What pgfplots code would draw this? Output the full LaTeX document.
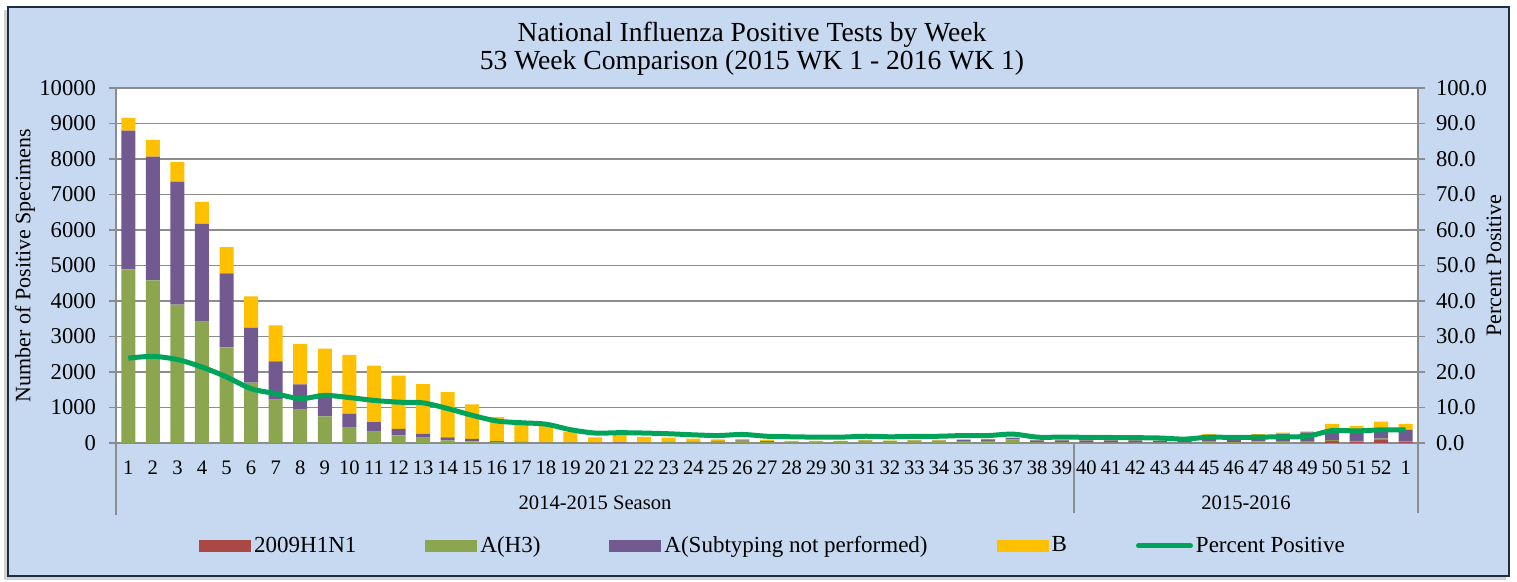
\documentclass[border=0pt]{standalone}
\usepackage{pgfplots}
\pgfplotsset{compat=1.18}
\usepackage{pgfplotstable}
\usepackage{fontspec}
\setmainfont{Liberation Serif}
\definecolor{bgblue}{RGB}{198,217,240}
\definecolor{cred}{RGB}{170,72,70}
\definecolor{cgreen}{RGB}{140,166,80}
\definecolor{cpurple}{RGB}{114,89,143}
\definecolor{cyellow}{RGB}{255,192,0}
\definecolor{cline}{RGB}{0,163,90}
\definecolor{cgrid}{RGB}{140,140,140}
\definecolor{cframe}{RGB}{30,45,65}

\pgfplotstableread{
x h1 h3 asub b pct
1 0 4890 3910 360 23.9
2 0 4580 3490 470 24.4
3 0 3900 3460 550 23.5
4 0 3420 2750 620 21.4
5 0 2690 2090 740 18.6
6 0 1700 1550 880 15.3
7 0 1220 1080 1010 13.9
8 0 940 710 1140 12.5
9 0 750 650 1260 13.4
10 0 430 400 1650 12.8
11 0 320 270 1590 12.0
12 0 215 180 1500 11.5
13 0 150 105 1400 11.3
14 0 75 85 1275 9.7
15 0 47 66 975 7.8
16 0 28 28 680 6.2
17 0 15 23 490 5.7
18 0 10 10 470 5.3
19 0 10 10 290 3.75
20 0 5 5 150 2.8
21 0 5 10 215 2.9
22 0 10 10 150 2.8
23 0 20 10 120 2.6
24 0 20 20 80 2.3
25 5 30 25 40 2.1
26 0 60 15 40 2.4
27 0 30 20 40 1.9
28 0 20 10 30 1.75
29 0 30 10 20 1.65
30 0 40 10 10 1.65
31 0 50 15 15 1.9
32 0 50 10 10 1.75
33 0 55 10 15 1.85
34 0 40 30 10 1.9
35 0 50 40 10 2.1
36 0 60 40 15 2.1
37 0 100 35 20 2.5
38 0 20 55 5 1.65
39 0 15 60 5 1.65
40 0 10 65 5 1.6
41 0 10 65 5 1.55
42 0 10 65 5 1.5
43 0 10 60 5 1.4
44 0 10 55 5 1.1
45 5 30 170 45 1.65
46 5 20 90 15 1.55
47 5 40 175 30 1.65
48 5 50 200 35 1.75
49 10 40 250 30 1.9
50 60 20 290 170 3.5
51 40 20 290 135 3.4
52 100 20 250 230 3.7
53 40 10 320 170 3.7
}\datatable

\begin{document}
\begin{tikzpicture}
\path[use as bounding box] (0,0) rectangle (758.5pt,291pt);
\fill[gray!60,opacity=0.6] (2pt,1pt) rectangle (753pt,286pt);
\fill[bgblue,draw=cframe,line width=1pt] (3.8pt,2.8pt) rectangle (754.5pt,287.5pt);
\node[anchor=base,font=\fontsize{13.8}{15}\selectfont] at (376pt,270pt) {National Influenza Positive Tests by Week};
\node[anchor=base,font=\fontsize{13.8}{15}\selectfont] at (376pt,256pt) {53 Week Comparison (2015 WK 1 - 2016 WK 1)};

\begin{axis}[
  at={(58pt,69.5pt)}, anchor=south west,
  scale only axis, width=651pt, height=177.5pt,
  xmin=0.5, xmax=53.5, ymin=0, ymax=10000,
  ybar stacked, bar width=7pt,
  xtick={1,...,53},
  xticklabels={1,2,3,4,5,6,7,8,9,10,11,12,13,14,15,16,17,18,19,20,21,22,23,24,25,26,27,28,29,30,31,32,33,34,35,36,37,38,39,40,41,42,43,44,45,46,47,48,49,50,51,52,1},
  x tick style={draw=none},
  xticklabel style={font=\fontsize{10.3}{12}\selectfont, yshift=-2pt},
  ytick={0,1000,...,10000},
  scaled y ticks=false,
  yticklabel style={font=\fontsize{11.3}{13}\selectfont, xshift=-3pt, /pgf/number format/.cd, fixed, 1000 sep={}, assume math mode=true},
  xticklabel style={/pgf/number format/assume math mode=true},
  y tick style={cgrid, line width=0.75pt},
  tick align=outside, major tick length=3.5pt,
  ymajorgrids, grid style={cgrid, line width=0.75pt},
  axis y line*=left, axis x line*=bottom,
  axis line style={cgrid, line width=0.75pt, -},
  axis background/.style={fill=white},
  clip=false,
  ylabel={Number of Positive Specimens},
  every axis y label/.style={at={(axis description cs:-0.0699,0.5)}, rotate=90, anchor=center, font=\fontsize{11}{13}\selectfont},
  legend columns=5,
  legend style={at={(axis description cs:0.505,-0.29)}, anchor=center, draw=none, fill=none,
    font=\fontsize{11.5}{13}\selectfont,
    /tikz/every even column/.append style={column sep=33pt},
    nodes={inner sep=1.5pt}},
]
\addplot[fill=cred, draw=none, legend image code/.code={\fill[cred] (0pt,-3pt) rectangle (26pt,3pt);}] table[x=x,y=h1]{\datatable};
\addlegendentry{2009H1N1}
\addplot[fill=cgreen, draw=none, legend image code/.code={\fill[cgreen] (0pt,-3pt) rectangle (26pt,3pt);}] table[x=x,y=h3]{\datatable};
\addlegendentry{A(H3)}
\addplot[fill=cpurple, draw=none, legend image code/.code={\fill[cpurple] (0pt,-3pt) rectangle (26pt,3pt);}] table[x=x,y=asub]{\datatable};
\addlegendentry{A(Subtyping not performed)}
\addplot[fill=cyellow, draw=none, legend image code/.code={\fill[cyellow] (0pt,-3pt) rectangle (26pt,3pt);}] table[x=x,y=b]{\datatable};
\addlegendentry{B}
\addlegendimage{legend image code/.code={\draw[cline, line width=2.5pt, line cap=round] (1pt,0pt) -- (27pt,0pt);}}
\addlegendentry{Percent Positive}
\draw[cgrid, line width=0.75pt] (axis cs:0.5,0) -- ([yshift=-36pt]axis cs:0.5,0);
\draw[cgrid, line width=0.75pt] (axis cs:39.5,0) -- ([yshift=-35pt]axis cs:39.5,0);
\draw[cgrid, line width=0.75pt] (axis cs:53.5,0) -- ([yshift=-35pt]axis cs:53.5,0);
\node[font=\fontsize{10.3}{12}\selectfont] at ([yshift=-30pt]axis cs:20,0) {2014-2015 Season};
\node[font=\fontsize{10.3}{12}\selectfont] at ([yshift=-30pt]axis cs:46.5,0) {2015-2016};
\end{axis}

\begin{axis}[
  at={(58pt,69.5pt)}, anchor=south west,
  scale only axis, width=651pt, height=177.5pt,
  xmin=0.5, xmax=53.5, ymin=0, ymax=100,
  axis x line=none, axis y line*=right,
  ytick={0,10,...,100},
  yticklabel style={font=\fontsize{11.3}{13}\selectfont, xshift=2pt, /pgf/number format/.cd, fixed, fixed zerofill, precision=1, assume math mode=true},
  y tick style={cgrid, line width=0.75pt},
  tick align=outside, major tick length=3.5pt,
  axis line style={cgrid, line width=0.75pt, -},
  ylabel={Percent Positive},
  every axis y label/.style={at={(axis description cs:1.0584,0.5)}, rotate=90, anchor=center, font=\fontsize{11}{13}\selectfont},
]
\addplot[cline, line width=2.5pt, smooth, tension=0.5, mark=none] table[x=x,y=pct]{\datatable};
\end{axis}
\end{tikzpicture}
\end{document}
